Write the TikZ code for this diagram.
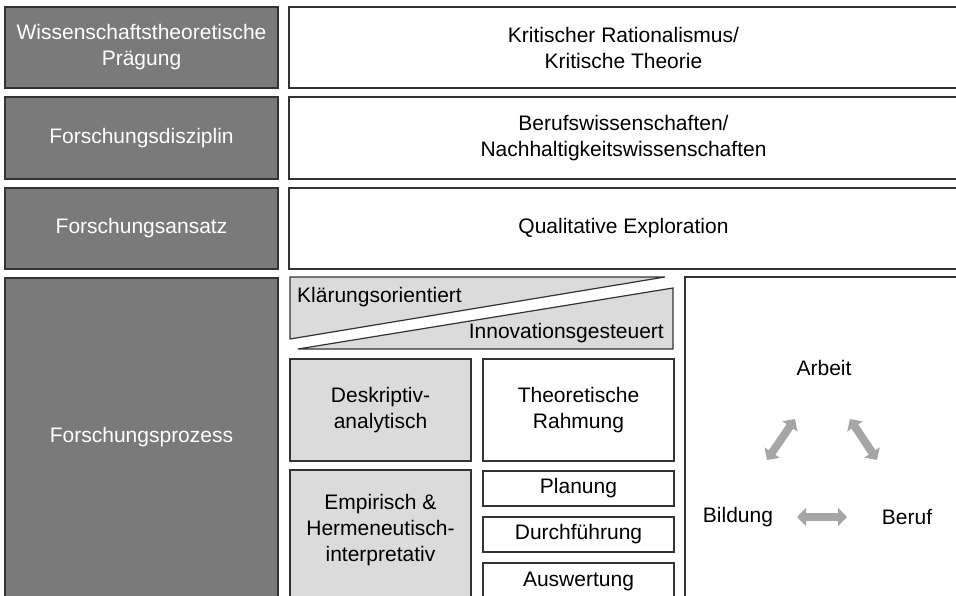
\documentclass[tikz,border=0pt]{standalone}
\usepackage{fontspec}
\setmainfont{Liberation Sans}
\usetikzlibrary{arrows.meta}

\begin{document}
\begin{tikzpicture}[x=1pt, y=-1pt, font=\fontsize{21}{26}\selectfont,
    head/.style={draw=black!80, line width=1.5pt, fill=black!52, text=white, align=center, inner sep=0pt, minimum width=273pt},
    field/.style={draw=black!80, line width=1.5pt, fill=white, align=center, inner sep=0pt, minimum width=669pt},
    cat/.style={draw=black!80, line width=1.2pt, fill=black!14, align=center, inner sep=0pt, minimum width=181pt},
    step box/.style={draw=black!80, line width=1.2pt, fill=white, align=center, inner sep=0pt, minimum width=191pt},
    link/.style={{Triangle[length=9pt,width=18pt]}-{Triangle[length=9pt,width=18pt]}, line width=8pt, draw=gray!70},
    ]

    \clip (0,0) rectangle (956,596);

    % Rows on the left
    \node[head, minimum height=81pt] (praeg) at (141.5,47.5) {Wissenschaftstheoretische\\Prägung};
    \node[head, minimum height=82pt] (diszi) at (141.5,138) {Forschungsdisziplin};
    \node[head, minimum height=81pt] (ansatz) at (141.5,228.5) {Forschungsansatz};
    \node[head, minimum height=342pt] (prozbox) at (141.5,449) {};
    \node[text=white] (prozess) at (141.5,437) {Forschungsprozess};

    % Rows on the right
    \node[field, minimum height=81pt] (ratio) at (623.5,47.5) {Kritischer Rationalismus/\\Kritische Theorie};
    \node[field, minimum height=82pt] (beruf) at (623.5,138) {Berufswissenschaften/\\Nachhaltigkeitswissenschaften};
    \node[field, minimum height=81pt] (quali) at (623.5,228.5) {Qualitative Exploration};

    % Orientations
    \draw[draw=black!80, line width=1.2pt, fill=black!14] (290,277) -- (665,277) -- (290,339) -- cycle;
    \draw[draw=black!80, line width=1.2pt, fill=black!14] (673,288) -- (673,349) -- (298,349) -- cycle;
    \node[anchor=west, inner sep=0pt] (klaer) at (297,297) {Klärungsorientiert};
    \node[anchor=east, inner sep=0pt] (innov) at (664,333) {Innovationsgesteuert};

    % Process steps
    \node[cat, minimum height=102pt] (deskr) at (380.5,410) {Deskriptiv-\\analytisch};
    \node[step box, minimum height=102pt] (rahmen) at (578.5,410) {Theoretische\\Rahmung};
    \node[cat, minimum height=150pt] (empbox) at (380.5,545) {};
    \node[align=center] (empir) at (380.5,530) {Empirisch \&\\Hermeneutisch-\\interpretativ};
    \node[step box, minimum height=35pt] (plan) at (578.5,488.5) {Planung};
    \node[step box, minimum height=35pt] (durch) at (578.5,534.5) {Durchführung};
    \node[step box, minimum height=37pt] (ausw) at (578.5,581.5) {Auswertung};

    % Triangle of terms
    \node[draw=black!80, line width=1.5pt, fill=white, minimum width=280pt, minimum height=343pt] (dreieck) at (825,448.5) {};
    \node (arbeit) at (824,368) {Arbeit};
    \node (bildung) at (738,517) {Bildung};
    \node (berufl) at (907,517) {Beruf};
    \coordinate (a1) at (795,419);
    \coordinate (a2) at (767,460);
    \coordinate (b1) at (850,419);
    \coordinate (b2) at (877,460);
    \coordinate (c1) at (797,517);
    \coordinate (c2) at (847,517);
    \draw[link] (a1) -- (a2);
    \draw[link] (b1) -- (b2);
    \draw[link] (c1) -- (c2);
\end{tikzpicture}
\end{document}
